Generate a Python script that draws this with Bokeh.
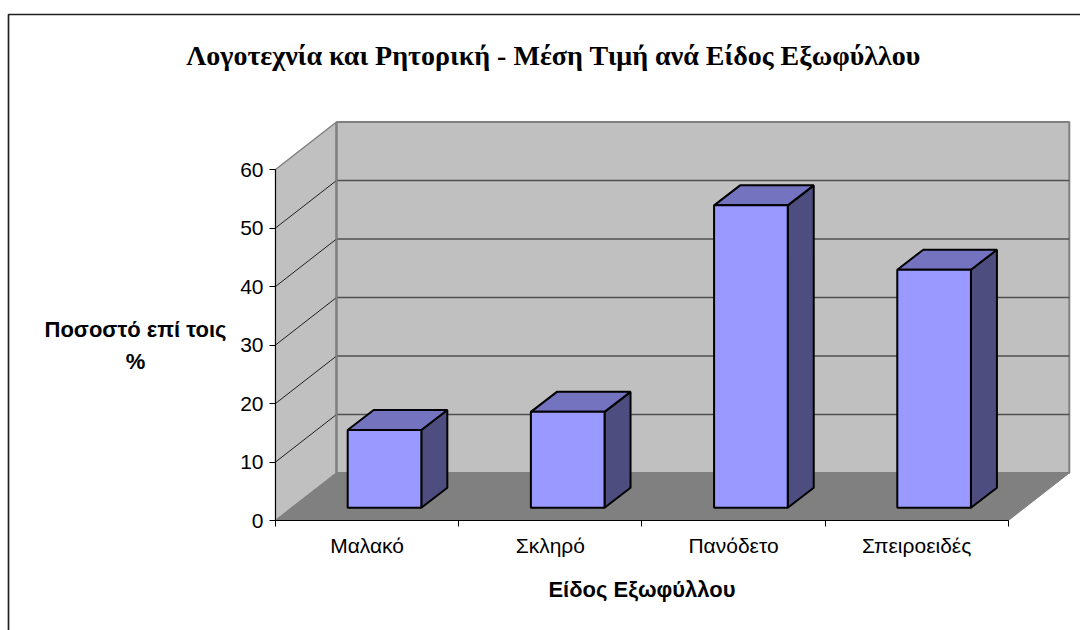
from bokeh.plotting import figure
from bokeh.models import FixedTicker, LinearAxis
from bokeh.core.properties import value
from bokeh.embed import file_html
from bokeh.resources import INLINE

title_text = "Λογοτεχνία και Ρητορική - Μέση Τιμή ανά Είδος Εξωφύλλου"
x_title = "Είδος Εξωφύλλου"
y_title = "Ποσοστό επί τοις\n%"
categories = ["Μαλακό", "Σκληρό", "Πανόδετο", "Σπειροειδές"]
values = [13.3, 16.4, 51.7, 40.7]
y_ticks = [0, 10, 20, 30, 40, 50, 60]

W, H = 1080, 630
PX, PY = 183.2, 5.85        # pixels per category, per axis unit
X0, Y0 = 275, 520           # pixel position of the axes' origin


def sx(px):
    return (px - X0) / PX


def sy(py):
    return (Y0 - py) / PY


# 3D projection, in axis units
WALL_DX, WALL_DY = 61 / PX, 47.5 / PY
BAR_LEFT, BAR_W = 0.394, 0.402
BAR_Y0 = 2.17
BAR_DX, BAR_DY = 26 / PX, 20 / PY
N = len(categories)
Y_MAX = y_ticks[-1]

p = figure(width=W, height=H, output_backend="svg", toolbar_location=None,
           x_range=(sx(0), sx(W)), y_range=(sy(H), sy(0)),
           min_border=0, outline_line_color=None,
           background_fill_color="white", border_fill_color="white",
           x_axis_location=None, y_axis_location=None)
p.grid.visible = False

# outer chart border, running off the right and bottom of the page
p.line([sx(8), sx(8), sx(1100)], [sy(700), sy(14), sy(14)],
       line_color="#202020", line_width=1.7)

# walls and floor
p.patch([0, WALL_DX, WALL_DX, 0], [0, WALL_DY, Y_MAX + WALL_DY, Y_MAX],
        fill_color="#C0C0C0", line_color="#808080", line_width=1.5)
p.quad(left=[WALL_DX], right=[N + WALL_DX], bottom=[WALL_DY], top=[Y_MAX + WALL_DY],
       fill_color="#C0C0C0", line_color="#808080", line_width=2)
p.patch([0, N, N + WALL_DX, WALL_DX], [0, 0, WALL_DY, WALL_DY],
        fill_color="#808080", line_color="#808080", line_width=1)

# gridlines
for t in y_ticks[1:-1]:
    p.line([0, WALL_DX], [t, t + WALL_DY], line_color="#202020", line_width=1)
    p.line([WALL_DX, N + WALL_DX], [t + WALL_DY, t + WALL_DY], line_color="#505050", line_width=1.5)
p.line([WALL_DX, WALL_DX], [WALL_DY, Y_MAX + WALL_DY], line_color="#808080", line_width=2)

# bars
for i, v in enumerate(values):
    l, r = i + BAR_LEFT, i + BAR_LEFT + BAR_W
    b, t = BAR_Y0, BAR_Y0 + v
    p.patch([r, r + BAR_DX, r + BAR_DX, r], [b, b + BAR_DY, t + BAR_DY, t],
            fill_color="#4D4D80", line_color="black", line_width=2)
    p.patch([l, r, r + BAR_DX, l + BAR_DX], [t, t, t + BAR_DY, t + BAR_DY],
            fill_color="#7373BF", line_color="black", line_width=2)
    p.quad(left=[l], right=[r], bottom=[b], top=[t],
           fill_color="#9999FF", line_color="black", line_width=2)

# axes, fixed at the origin inside the frame
yax = LinearAxis(fixed_location=0)
p.add_layout(yax, "left")
yax.ticker = FixedTicker(ticks=y_ticks)
yax.bounds = (0, Y_MAX)
yax.major_tick_in = 0
yax.major_tick_out = 6
yax.minor_tick_out = 0
yax.minor_tick_in = 0
yax.axis_line_color = "black"
yax.major_tick_line_color = "black"
yax.major_label_text_font = "Liberation Sans"
yax.major_label_text_font_size = "21px"
yax.major_label_text_color = "black"
yax.major_label_standoff = 6

xax = LinearAxis(fixed_location=0)
p.add_layout(xax, "below")
centers = [i + 0.5 for i in range(N)]
xax.ticker = FixedTicker(ticks=centers, minor_ticks=list(range(N + 1)))
xax.bounds = (0, N)
xax.major_label_overrides = {c: n for c, n in zip(centers, categories)}
xax.major_tick_in = 0
xax.major_tick_out = 0
xax.minor_tick_in = 0
xax.minor_tick_out = 6
xax.axis_line_color = "black"
xax.minor_tick_line_color = "black"
xax.major_label_text_font = "Liberation Sans"
xax.major_label_text_font_size = "21px"
xax.major_label_text_color = "black"
xax.major_label_standoff = 7
xax.axis_label = x_title
xax.axis_label_text_font = "Liberation Sans"
xax.axis_label_text_font_style = "bold"
xax.axis_label_text_font_size = "22px"
xax.axis_label_text_color = "black"
xax.axis_label_standoff = 17

# vertical axis title, two centred lines
p.text(x=[sx(135)], y=[sy(345)], text=[y_title],
       text_align="center", text_baseline="middle",
       text_font=value("Liberation Sans"), text_font_style="bold",
       text_font_size="22px", text_color="black", text_line_height=1.25)

# chart title
p.text(x=[sx(553)], y=[sy(55)], text=[title_text],
       text_align="center", text_baseline="middle",
       text_font=value("Liberation Serif"), text_font_style="bold",
       text_font_size="28px", text_color="black")

open("out.html", "w").write(file_html(p, INLINE))
